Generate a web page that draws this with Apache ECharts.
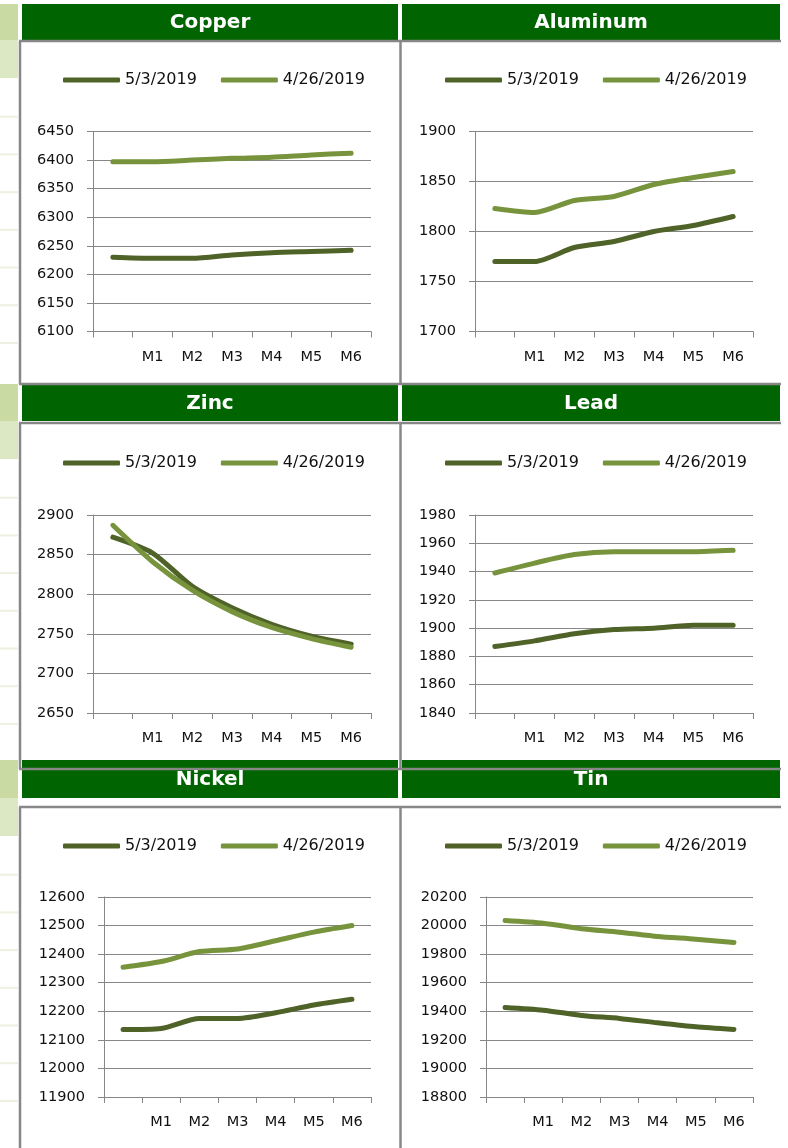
<!DOCTYPE html>
<html>
<head>
<meta charset="utf-8">
<script src="https://cdn.jsdelivr.net/npm/echarts@6/dist/echarts.min.js"></script>
<style>
    html, body { margin: 0; padding: 0; background: #fff; }
    #main { width: 788px; height: 1148px; }
</style>
</head>
<body>
<div id="main"></div>
<script>
    'use strict';

    var categories = ['', 'M1', 'M2', 'M3', 'M4', 'M5', 'M6'];
    var seriesNames = ['5/3/2019', '4/26/2019'];

    var copperMay3 = [6230, 6228, 6228, 6234, 6238, 6240, 6242];
    var copperApr26 = [6397, 6397, 6400, 6403, 6405, 6409, 6412];
    var aluminumMay3 = [1770, 1770, 1784, 1790, 1800, 1806, 1815];
    var aluminumApr26 = [1823, 1819, 1831, 1835, 1847, 1854, 1860];
    var zincMay3 = [2872, 2852, 2810, 2783, 2762, 2747, 2737];
    var zincApr26 = [2887, 2841, 2805, 2778, 2758, 2744, 2733];
    var leadMay3 = [1887, 1891, 1896, 1899, 1900, 1902, 1902];
    var leadApr26 = [1939, 1946, 1952, 1954, 1954, 1954, 1955];
    var nickelMay3 = [12136, 12140, 12175, 12175, 12195, 12222, 12242];
    var nickelApr26 = [12354, 12374, 12409, 12418, 12447, 12477, 12500];
    var tinMay3 = [19427, 19408, 19371, 19350, 19319, 19291, 19273];
    var tinApr26 = [20036, 20017, 19978, 19954, 19923, 19905, 19881];

    // y axis: min, max, step
    var copperTicks = [6100, 6450, 50];
    var aluminumTicks = [1700, 1900, 50];
    var zincTicks = [2650, 2900, 50];
    var leadTicks = [1840, 1980, 20];
    var nickelTicks = [11900, 12600, 100];
    var tinTicks = [18800, 20200, 200];

    var DARK = '#4F6228', LIGHT = '#77933C', GRAY = '#878787', HEAD = '#006400';
    var FONT = 'DejaVu Sans';

    var rows = [
        { header: [4, 40], box: [41, 384], gridTop: 131.5, gridH: 200, legend: 72 },
        { header: [384, 421], box: [423, 769], gridTop: 515, gridH: 198, legend: 455 },
        { header: [760, 798], box: [807, 1160], gridTop: 897, gridH: 200, legend: 838 }
    ];
    var cols = [
        { header: [22, 398], legend: 63 },
        { header: [402, 780], legend: 445 }
    ];

    var panels = [
        { title: 'Copper', a: copperMay3, b: copperApr26, ticks: copperTicks, row: 0, col: 0, left: 93, width: 278 },
        { title: 'Aluminum', a: aluminumMay3, b: aluminumApr26, ticks: aluminumTicks, row: 0, col: 1, left: 475, width: 278 },
        { title: 'Zinc', a: zincMay3, b: zincApr26, ticks: zincTicks, row: 1, col: 0, left: 93, width: 278 },
        { title: 'Lead', a: leadMay3, b: leadApr26, ticks: leadTicks, row: 1, col: 1, left: 475, width: 278 },
        { title: 'Nickel', a: nickelMay3, b: nickelApr26, ticks: nickelTicks, row: 2, col: 0, left: 104, width: 267 },
        { title: 'Tin', a: tinMay3, b: tinApr26, ticks: tinTicks, row: 2, col: 1, left: 486, width: 267 }
    ];

    var chart = echarts.init(document.getElementById('main'));

    var grid = [], xAxis = [], yAxis = [], series = [], legend = [], graphic = [];

    // spreadsheet strip on the far left
    rows.forEach(function(r) {
        graphic.push({ type: 'rect', z: 0, shape: { x: 0, y: r.header[0], width: 18, height: r.header[1] - r.header[0] }, style: { fill: '#C9DBA3' } });
        graphic.push({ type: 'rect', z: 0, shape: { x: 0, y: r.header[1], width: 18, height: 38 }, style: { fill: '#DCE7C4' } });
        for (var k = 1; k <= 8; k++) {
            var yy = r.header[1] + 38 + k * 37.7;
            if (yy < r.header[0] + 375) {
                graphic.push({ type: 'rect', z: 0, shape: { x: 0, y: yy, width: 18, height: 2 }, style: { fill: '#ECF1E0' } });
            }
        }
    });

    // green header bars
    rows.forEach(function(r) {
        cols.forEach(function(c) {
            graphic.push({ type: 'rect', z: 0, shape: { x: c.header[0], y: r.header[0], width: c.header[1] - c.header[0], height: r.header[1] - r.header[0] }, style: { fill: HEAD } });
        });
    });

    // chart box borders
    rows.forEach(function(r) {
        var bottom = Math.min(r.box[1], 1148);
        graphic.push({ type: 'line', z: 1, shape: { x1: 19, y1: r.box[0], x2: 781, y2: r.box[0] }, style: { stroke: GRAY, lineWidth: 2.5 } });
        if (r.box[1] < 1148) {
            graphic.push({ type: 'line', z: 1, shape: { x1: 19, y1: r.box[1], x2: 781, y2: r.box[1] }, style: { stroke: GRAY, lineWidth: 2.5 } });
        }
        graphic.push({ type: 'line', z: 1, shape: { x1: 20, y1: r.box[0], x2: 20, y2: bottom }, style: { stroke: GRAY, lineWidth: 2.5 } });
        graphic.push({ type: 'line', z: 1, shape: { x1: 400.5, y1: r.box[0], x2: 400.5, y2: bottom }, style: { stroke: GRAY, lineWidth: 2.5 } });
    });

    panels.forEach(function(p, i) {
        var r = rows[p.row], c = cols[p.col];

        graphic.push({
            type: 'text', z: 3,
            style: {
                text: p.title,
                x: (c.header[0] + c.header[1]) / 2,
                y: (r.header[0] + r.header[1]) / 2 + 1,
                align: 'center', verticalAlign: 'middle',
                fill: '#fff', font: 'bold 20px "' + FONT + '"'
            }
        });

        grid.push({ left: p.left, top: r.gridTop, width: p.width, height: r.gridH, containLabel: false });

        xAxis.push({
            type: 'category', gridIndex: i, data: categories, boundaryGap: true,
            axisLine: { lineStyle: { color: GRAY, width: 1 } },
            axisTick: { show: true, interval: 0, length: 6, lineStyle: { color: GRAY } },
            axisLabel: { interval: 0, margin: 18, fontSize: 14.5, fontFamily: FONT, color: '#111' },
            splitLine: { show: false }
        });

        yAxis.push({
            type: 'value', gridIndex: i,
            min: p.ticks[0], max: p.ticks[1], interval: p.ticks[2],
            axisLine: { show: true, lineStyle: { color: GRAY, width: 1 } },
            axisTick: { show: true, length: 6, lineStyle: { color: GRAY } },
            axisLabel: {
                margin: 19, fontSize: 14.5, fontFamily: FONT, color: '#111',
                formatter: function(v) { return String(v); }
            },
            splitLine: { show: true, lineStyle: { color: GRAY, width: 1 } }
        });

        [p.a, p.b].forEach(function(vals, j) {
            series.push({
                type: 'line', name: seriesNames[j],
                xAxisIndex: i, yAxisIndex: i,
                data: vals, smooth: 0.25,
                symbol: 'none', showSymbol: false,
                color: j === 0 ? DARK : LIGHT,
                lineStyle: { width: 5, cap: 'round', join: 'round', color: j === 0 ? DARK : LIGHT },
                emphasis: { disabled: true }
            });
        });

        legend.push({
            left: c.legend, top: r.legend,
            data: seriesNames,
            icon: 'roundRect', itemWidth: 57, itemHeight: 5, itemGap: 24,
            padding: 0,
            textStyle: { fontSize: 16, fontFamily: FONT, color: '#111' }
        });
    });

    chart.setOption({
        animation: false,
        backgroundColor: '#fff',
        grid: grid,
        xAxis: xAxis,
        yAxis: yAxis,
        legend: legend,
        series: series,
        graphic: graphic
    });
</script>
</body>
</html>
